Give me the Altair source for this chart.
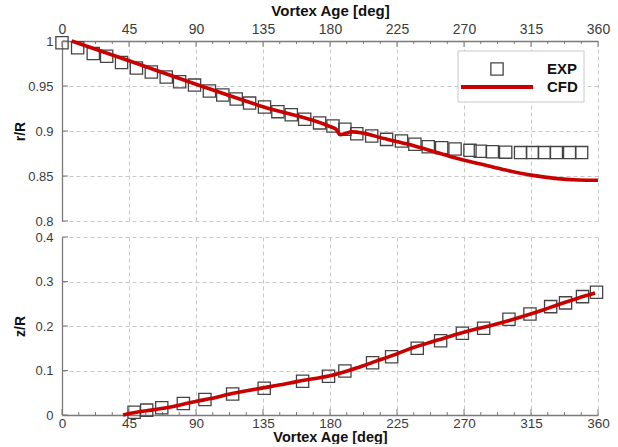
import altair as alt
import pandas as pd

# ---------------- data ----------------
exp_r_deg = [0, 10.5, 21, 30, 40, 50, 60, 70, 79, 89, 99, 108, 117, 126, 136, 145, 154, 163,
             173, 182, 190, 198, 208, 218, 228, 237, 246, 255, 264, 274, 281, 289, 298, 308,
             316, 324, 332, 341, 349]
exp_r_val = [0.998, 0.9926, 0.986, 0.983, 0.976, 0.970, 0.9656, 0.960, 0.9548, 0.951, 0.9444,
             0.940, 0.9356, 0.931, 0.9267, 0.9215, 0.918, 0.913, 0.909, 0.9056, 0.902, 0.897,
             0.8944, 0.8907, 0.8889, 0.8852, 0.8826, 0.8815, 0.880, 0.8785, 0.8775, 0.877,
             0.8765, 0.876, 0.876, 0.876, 0.876, 0.876, 0.876]

cfd_r_deg = [6.5, 45, 90, 135, 180, 184, 187, 195, 218, 232, 250, 265, 282, 298, 315, 331, 347, 360]
cfd_r_val = [1.0, 0.978, 0.952, 0.927, 0.905, 0.902, 0.896, 0.899, 0.891, 0.8855, 0.877,
             0.8696, 0.863, 0.8566, 0.851, 0.8474, 0.8456, 0.8452]

exp_z_deg = [48.4, 56.9, 67, 81.5, 96, 114.6, 135.8, 161.6, 179, 190, 208.6, 221.4, 238.6,
             254.3, 268.9, 283.2, 300.2, 314.3, 328.2, 338.2, 349.6, 359]
exp_z_val = [0.006, 0.011, 0.0165, 0.026, 0.035, 0.047, 0.060, 0.076, 0.087, 0.099, 0.1176,
             0.131, 0.1498, 0.167, 0.1835, 0.195, 0.215, 0.227, 0.2435, 0.252, 0.266, 0.2757]

cfd_z_deg = [41, 50, 60, 68, 80, 90.5, 100, 112.8, 125, 135, 147, 157.6, 170, 180, 190, 200,
             211, 222, 233, 245, 256, 267, 278, 290, 301, 312, 323, 334, 346, 358]
cfd_z_val = [0.0, 0.006, 0.011, 0.015, 0.023, 0.031, 0.037, 0.047, 0.055, 0.061, 0.068, 0.075,
             0.082, 0.088, 0.097, 0.108, 0.121, 0.134, 0.148, 0.161, 0.172, 0.183, 0.193, 0.203,
             0.213, 0.224, 0.236, 0.249, 0.262, 0.274]

x_ticks = [0, 45, 90, 135, 180, 225, 270, 315, 360]
x_minor = [11.25, 22.5, 33.75, 56.25, 67.5, 78.75, 101.25, 112.5, 123.75, 146.25, 157.5, 168.75,
           191.25, 202.5, 213.75, 236.25, 247.5, 258.75, 281.25, 292.5, 303.75, 326.25, 337.5, 348.75]
r_ticks = [0.8, 0.85, 0.9, 0.95, 1.0]
z_ticks = [0, 0.1, 0.2, 0.3, 0.4]
legend_labels = ["EXP", "CFD"]

# ---------------- style ----------------
W, H1, H2 = 536, 180, 178
RED = "#c80000"
GRID = "#c8c8c8"
AXC = "#7a7a7a"
LBL = "#3c3c3c"
FONT = "Liberation Sans"

xs = alt.Scale(domain=[0, 360], nice=False, zero=False)
rs = alt.Scale(domain=[0.8, 1.0], nice=False, zero=False)
zs = alt.Scale(domain=[0, 0.4], nice=False, zero=False)

common_axis = dict(grid=True, gridDash=[4, 3], gridColor=GRID, gridWidth=1,
                   domainColor=AXC, domainWidth=1.3, ticks=False, tickSize=0,
                   labelColor=LBL, labelFont=FONT, titleFont=FONT, titleColor="#111111",
                   titleFontWeight="bold", labelFlush=False)

x_top_axis = alt.Axis(orient="top", values=x_ticks, format="d", title="Vortex Age [deg]",
                      labelFontSize=14, titleFontSize=15, labelPadding=5, titlePadding=4,
                      **common_axis)
x_bot_axis = alt.Axis(orient="bottom", values=x_ticks, format="d", title="Vortex Age [deg]",
                      labelFontSize=13.5, titleFontSize=14.5, labelPadding=1, titlePadding=1,
                      **common_axis)
r_axis = alt.Axis(values=r_ticks, format="~g", title="r/R", labelFontSize=13, titleFontSize=14,
                  labelPadding=9, titleX=-42, titleY=H1 / 2, titleBaseline="middle",
                  **common_axis)
z_axis = alt.Axis(values=z_ticks, format="~g", title="z/R", labelFontSize=13, titleFontSize=14,
                  labelPadding=9, titleX=-42, titleY=H2 / 2, titleBaseline="middle",
                  **common_axis)

exp_r = pd.DataFrame({"deg": exp_r_deg, "v": exp_r_val})
cfd_r = pd.DataFrame({"deg": cfd_r_deg, "v": cfd_r_val})
exp_z = pd.DataFrame({"deg": exp_z_deg, "v": exp_z_val})
cfd_z = pd.DataFrame({"deg": cfd_z_deg, "v": cfd_z_val})
xt_major = pd.DataFrame({"deg": x_ticks})
xt_minor = pd.DataFrame({"deg": x_minor})
rt = pd.DataFrame({"v": r_ticks})
zt = pd.DataFrame({"v": z_ticks})


def panel(exp_df, cfd_df, yscale, yaxis, xaxis, h, top, ydf):
    pts = alt.Chart(exp_df).mark_point(shape="square", filled=False, size=150,
                                       stroke="#444444", strokeWidth=1.3, opacity=1).encode(
        x=alt.X("deg:Q", scale=xs, axis=xaxis),
        y=alt.Y("v:Q", scale=yscale, axis=yaxis))
    line = alt.Chart(cfd_df).mark_line(color=RED, strokeWidth=3.6, interpolate="monotone").encode(
        x=alt.X("deg:Q", scale=xs, axis=xaxis),
        y=alt.Y("v:Q", scale=yscale, axis=yaxis))
    if top:
        y0, y1, y0m = alt.value(0), alt.value(6), alt.value(3)
    else:
        y0, y1, y0m = alt.value(h), alt.value(h - 6), alt.value(h - 3)
    maj = alt.Chart(xt_major).mark_rule(color=AXC, strokeWidth=1).encode(
        x=alt.X("deg:Q", scale=xs, axis=xaxis), y=y0, y2=y1)
    mnr = alt.Chart(xt_minor).mark_rule(color=AXC, strokeWidth=1).encode(
        x=alt.X("deg:Q", scale=xs, axis=xaxis), y=y0, y2=y0m)
    ytk = alt.Chart(ydf).mark_rule(color=AXC, strokeWidth=1).encode(
        y=alt.Y("v:Q", scale=yscale, axis=yaxis), x=alt.value(0), x2=alt.value(6))
    return [maj, mnr, ytk, pts, line]


top_layers = panel(exp_r, cfd_r, rs, r_axis, x_top_axis, H1, True, rt)

# legend (drawn inside the top panel)
leg_box = alt.Chart(pd.DataFrame({"k": [0]})).mark_rect(
    fill="white", stroke="#c8c8c8", strokeWidth=1).encode(
    x=alt.value(396), x2=alt.value(522), y=alt.value(10), y2=alt.value(61))
leg_sq = alt.Chart(pd.DataFrame({"k": [0]})).mark_point(
    shape="square", filled=False, size=150, stroke="#444444", strokeWidth=1.3, opacity=1).encode(
    x=alt.value(435), y=alt.value(28))
leg_ln = alt.Chart(pd.DataFrame({"k": [0]})).mark_rule(color=RED, strokeWidth=4).encode(
    x=alt.value(399), x2=alt.value(471), y=alt.value(46))
leg_t1 = alt.Chart(pd.DataFrame({"k": [0]})).mark_text(
    text=legend_labels[0], align="left", baseline="middle", font=FONT, fontSize=15,
    fontWeight="bold", color="#111111").encode(x=alt.value(485), y=alt.value(28))
leg_t2 = alt.Chart(pd.DataFrame({"k": [0]})).mark_text(
    text=legend_labels[1], align="left", baseline="middle", font=FONT, fontSize=15,
    fontWeight="bold", color="#111111").encode(x=alt.value(485), y=alt.value(46))

top = alt.layer(*top_layers, leg_box, leg_sq, leg_ln, leg_t1, leg_t2).properties(width=W, height=H1)
bottom = alt.layer(*panel(exp_z, cfd_z, zs, z_axis, x_bot_axis, H2, False, zt)).properties(
    width=W, height=H2)

chart = alt.vconcat(top, bottom, spacing=3).properties(
    padding={"left": 13, "top": 3, "right": 5, "bottom": 0},
    background="white"
).configure_view(stroke=None).resolve_scale(x="independent", y="independent")

chart.save("out.html", embed_options={"renderer": "svg", "actions": False})
